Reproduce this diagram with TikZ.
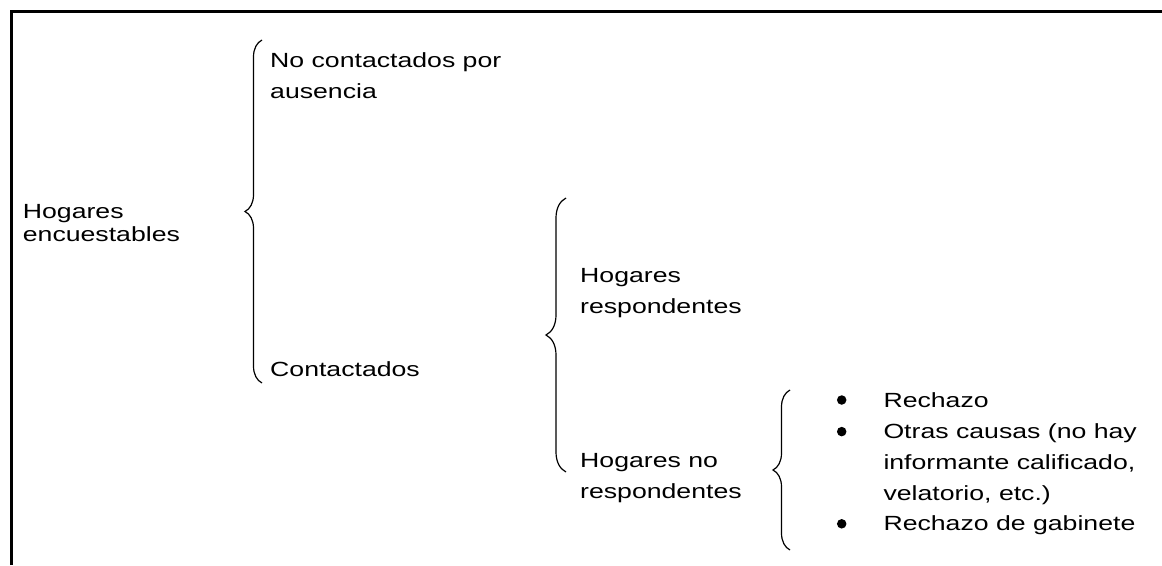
\documentclass[tikz,border=0pt]{standalone}
\usepackage{fontspec}
\setmainfont{Liberation Sans}[FakeStretch=1.3]
\usetikzlibrary{decorations.pathreplacing}
\begin{document}
\begin{tikzpicture}[x=1pt,y=-1pt,
    txt/.style={anchor=north west,inner sep=0pt,align=left,
      font=\fontsize{20.5}{30.5}\selectfont},
    llave/.style={draw,line width=1.2pt,
      decoration={brace,amplitude=#1},decorate},
    punto/.style={circle,fill,inner sep=0pt,minimum size=9.5pt}]
    \useasboundingbox (0,0) rectangle (1162,565);
    % marco
    \draw[line width=2.7pt] (11.3,565) -- (11.3,11.3) -- (1162,11.3);
    % textos
    \node[txt,font=\fontsize{20.5}{22.4}\selectfont] (enc) at (22.7,204.6) {Hogares\\encuestables};
    \node[txt] (noc) at (270,52.6) {No contactados por\\ausencia};
    \node[txt] (con) at (270,361.3) {Contactados};
    \node[txt] (res) at (580,268.6) {Hogares\\respondentes};
    \node[txt] (nor) at (580,453.6) {Hogares no\\respondentes};
    \node[txt] (r1) at (883.3,392) {Rechazo};
    \node[txt,font=\fontsize{20.5}{30.8}\selectfont] (r2) at (883.3,423.6) {Otras causas (no hay\\informante calificado,\\velatorio, etc.)};
    \node[txt] (r3) at (883.3,515.8) {Rechazo de gabinete};
    \node[punto] (p1) at (841.7,400) {};
    \node[punto] (p2) at (841.7,431.6) {};
    \node[punto] (p3) at (841.7,523.8) {};
    % llaves
    \draw[llave=17pt] (262,383) -- (262,40);
    \draw[llave=20pt] (566,472) -- (566,198);
    \draw[llave=17pt] (790,550) -- (790,390);
\end{tikzpicture}
\end{document}
